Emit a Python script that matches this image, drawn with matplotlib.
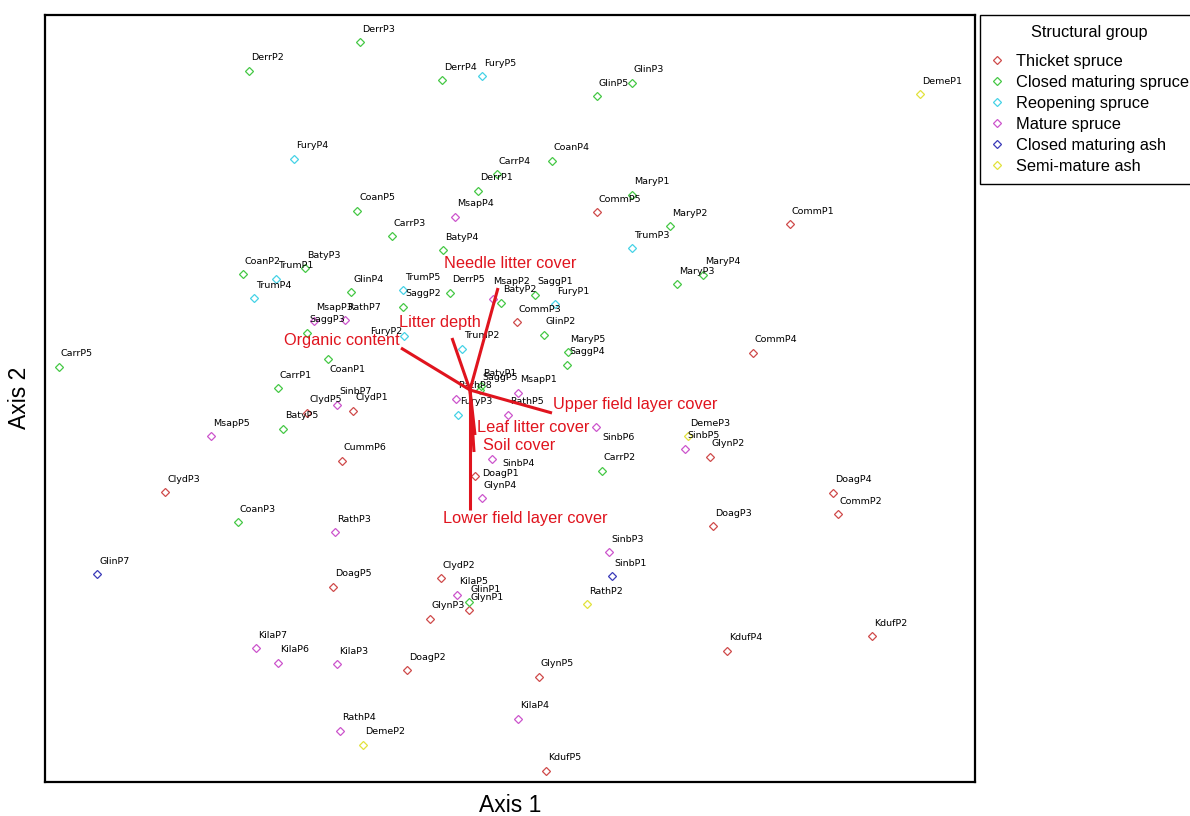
import matplotlib
matplotlib.use("Agg")
import matplotlib.pyplot as plt
from matplotlib.lines import Line2D

# Site scores on the first two ordination axes
sites = [
    "DerrP2", "FuryP4", "DerrP3", "DerrP4", "FuryP5", "GlinP5", "GlinP3", "CoanP4",
    "CarrP4", "DerrP1", "CoanP5", "MsapP4", "CarrP3", "BatyP4", "CommP5", "MaryP1",
    "TrumP3", "MaryP2", "DemeP1", "CommP1", "MaryP3", "MaryP4", "CarrP5", "TrumP4",
    "GlinP4", "RathP7", "MsapP3", "SaggP3", "CoanP1", "CarrP1", "ClydP5", "SinbP7",
    "ClydP1", "BatyP5", "CoanP2", "TrumP1", "BatyP3", "TrumP5", "SaggP2", "FuryP2",
    "DerrP5", "MsapP2", "BatyP2", "SaggP1", "FuryP1", "CommP3", "GlinP2", "MaryP5",
    "SaggP4", "TrumP2", "BatyP1", "SaggP5", "RathP8", "MsapP1", "FuryP3", "RathP5",
    "SinbP6", "CarrP2", "SinbP4", "DoagP1", "GlynP4", "CommP4", "DemeP3", "SinbP5",
    "GlynP2", "DoagP4", "CommP2", "DoagP3", "MsapP5", "ClydP3", "CoanP3", "CummP6",
    "RathP3", "GlinP7", "DoagP5", "KilaP7", "KilaP6", "KilaP3", "RathP4", "DemeP2",
    "ClydP2", "KilaP5", "GlinP1", "GlynP1", "GlynP3", "DoagP2", "GlynP5", "KilaP4",
    "KdufP5", "SinbP3", "SinbP1", "RathP2", "KdufP4", "KdufP2",
]
axis1 = [
    -2.21, -1.76, -1.10, -0.28, 0.12, 1.27, 1.62, 0.82,
    0.27, 0.08, -1.13, -0.15, -0.78, -0.27, 1.27, 1.62,
    1.62, 2.00, 4.50, 3.20, 2.07, 2.33, -4.11, -2.16,
    -1.19, -1.25, -1.56, -1.63, -1.42, -1.92, -1.63, -1.33,
    -1.17, -1.87, -2.27, -1.94, -1.65, -0.67, -0.67, -0.66,
    -0.20, 0.23, 0.31, 0.65, 0.85, 0.47, 0.74, 0.98,
    0.97, -0.08, 0.11, 0.10, -0.14, 0.48, -0.12, 0.38,
    1.26, 1.32, 0.22, 0.05, 0.12, 2.83, 2.18, 2.15,
    2.40, 3.63, 3.68, 2.43, -2.59, -3.05, -2.32, -1.28,
    -1.35, -3.73, -1.37, -2.14, -1.92, -1.33, -1.30, -1.07,
    -0.29, -0.13, -0.01, -0.01, -0.40, -0.63, 0.69, 0.48,
    0.76, 1.39, 1.42, 1.17, 2.57, 4.02,
]
axis2 = [
    3.19, 2.31, 3.48, 3.10, 3.14, 2.94, 3.07, 2.29,
    2.16, 1.99, 1.79, 1.73, 1.54, 1.40, 1.78, 1.95,
    1.42, 1.64, 2.96, 1.66, 1.06, 1.15, 0.23, 0.92,
    0.98, 0.70, 0.69, 0.57, 0.31, 0.02, -0.23, -0.15,
    -0.21, -0.39, 1.16, 1.11, 1.22, 1.00, 0.83, 0.54,
    0.97, 0.91, 0.87, 0.95, 0.86, 0.68, 0.55, 0.38,
    0.25, 0.41, 0.04, 0.00, -0.09, -0.03, -0.25, -0.25,
    -0.37, -0.81, -0.69, -0.86, -1.08, 0.37, -0.46, -0.59,
    -0.67, -1.03, -1.24, -1.36, -0.46, -1.02, -1.32, -0.71,
    -1.42, -1.84, -1.97, -2.58, -2.73, -2.74, -3.41, -3.55,
    -1.88, -2.05, -2.12, -2.20, -2.29, -2.80, -2.87, -3.29,
    -3.81, -1.62, -1.86, -2.14, -2.61, -2.46,
]
# Structural group of each site: T thicket, C closed maturing spruce, R reopening,
# M mature spruce, A closed maturing ash, S semi-mature ash
group = [
    "C", "R", "C", "C", "R", "C", "C", "C",
    "C", "C", "C", "M", "C", "C", "T", "C",
    "R", "C", "S", "T", "C", "C", "C", "R",
    "C", "M", "M", "C", "C", "C", "T", "M",
    "T", "C", "C", "R", "C", "R", "C", "R",
    "C", "M", "C", "C", "R", "T", "C", "C",
    "C", "R", "C", "C", "M", "M", "R", "M",
    "M", "C", "M", "T", "M", "T", "S", "M",
    "T", "T", "T", "T", "M", "T", "C", "T",
    "M", "A", "T", "M", "M", "M", "M", "S",
    "T", "M", "C", "T", "T", "T", "T", "M",
    "T", "M", "A", "S", "T", "T",
]

group_codes = ["T", "C", "R", "M", "A", "S"]
group_names = ["Thicket spruce", "Closed maturing spruce", "Reopening spruce",
               "Mature spruce", "Closed maturing ash", "Semi-mature ash"]
group_colors = ["#cf4a4a", "#45c845", "#45d2e6", "#cc55cc", "#3a3ab8", "#e2e23c"]

# Environmental vectors (biplot arrows)
env_vars = ["Needle litter cover", "Litter depth", "Organic content",
            "Upper field layer cover", "Leaf litter cover", "Soil cover",
            "Lower field layer cover"]
env_ax1 = [0.28, -0.18, -0.69, 0.82, 0.05, 0.04, 0.00]
env_ax2 = [1.02, 0.52, 0.42, -0.23, -0.45, -0.62, -1.20]

# label placement for the vector names: (dx, dy in pixels, ha)
env_label_style = [(12, 24, "center"), (-12, 16, "center"), (-1, 7, "right"),
                   (1, 8, "left"), (2, 7, "left"), (9, 6, "left"), (-27, -9, "left")]

# site labels that sit away from the usual spot above their marker
label_shift = {"SinbP6": (6, -10, "left"), "SinbP4": (10, -4, "left"),
               "DoagP1": (7, 3, "left"), "CoanP1": (2, -11, "left"),
               "FuryP2": (-2, 5, "right"), "MsapP2": (0, 17, "left")}

W, H = 1190, 816
fig = plt.figure(figsize=(W / 100, H / 100), dpi=100)
ax = fig.add_axes([45 / W, 1 - 782 / H, 930 / W, 767 / H])
ax.set_xlim(-4.25, 5.05)
ax.set_ylim(-3.92, 3.75)
ax.set_xticks([])
ax.set_yticks([])
for s in ax.spines.values():
    s.set_linewidth(1.6)
    s.set_color("black")

color_of = dict(zip(group_codes, group_colors))
for code in group_codes:
    xs = [x for x, g in zip(axis1, group) if g == code]
    ys = [y for y, g in zip(axis2, group) if g == code]
    ax.plot(xs, ys, ls="none", marker="D", ms=4.2, mfc="none",
            mec=color_of[code], mew=0.9, zorder=2)

for name, x, y in zip(sites, axis1, axis2):
    dx, dy, ha = label_shift.get(name, (2, 13, "left"))
    ax.annotate(name, (x, y), xytext=(dx, dy), textcoords="offset pixels",
                ha=ha, va="center", fontsize=6.8, family="DejaVu Sans",
                color="black", zorder=3)

vec_red = "#e0141e"
for name, u, v, (dx, dy, ha) in zip(env_vars, env_ax1, env_ax2, env_label_style):
    ax.plot([0, u], [0, v], color=vec_red, lw=2.2, solid_capstyle="butt", zorder=4)
    ax.annotate(name, (u, v), xytext=(dx, dy), textcoords="offset pixels",
                ha=ha, va="center", fontsize=11.8, family="Liberation Sans",
                color=vec_red, zorder=5)

fig.text(510 / W, 1 - 805 / H, "Axis 1", fontsize=16.5, family="Liberation Sans",
         ha="center", va="center")
fig.text(20 / W, 1 - 398 / H, "Axis 2", fontsize=16.5, family="Liberation Sans",
         ha="center", va="center", rotation=90)

handles = [Line2D([], [], ls="none", marker="D", ms=4.2, mfc="none", mec=c, mew=0.9)
           for c in group_colors]
leg = fig.legend(handles, group_names, title="Structural group",
                 loc="upper left", bbox_to_anchor=(980 / W, 1 - 15 / H),
                 bbox_transform=fig.transFigure, borderaxespad=0,
                 prop={"family": "Liberation Sans", "size": 11.8},
                 title_fontproperties={"family": "Liberation Sans", "size": 11.8},
                 fancybox=False, edgecolor="black", framealpha=1,
                 handlelength=0.8, handletextpad=0.8, labelspacing=0.36,
                 borderpad=0.62)
leg.get_frame().set_linewidth(1.0)
# extra gap between the legend title and its entries
leg._legend_box.sep = 10

fig.savefig("out.png", dpi=100)
